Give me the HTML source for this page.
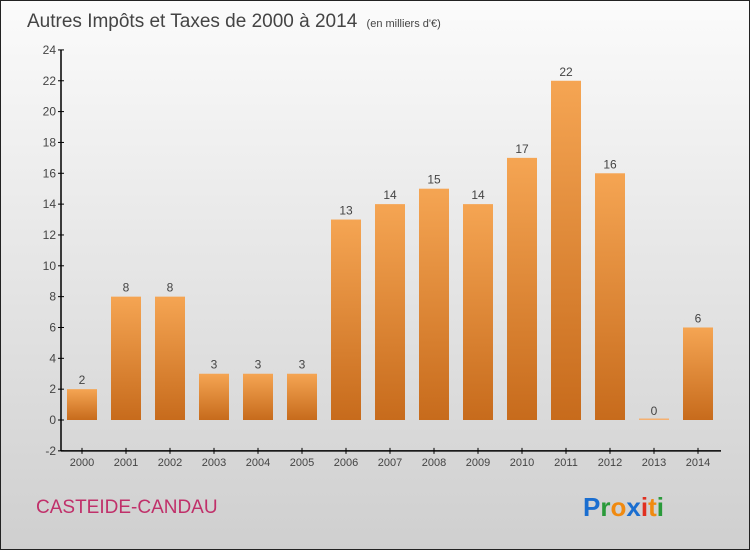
<!DOCTYPE html>
<html><head><meta charset="utf-8"><style>
html,body{margin:0;padding:0}
body{width:750px;height:550px;overflow:hidden;font-family:"Liberation Sans",sans-serif}
svg text{font-family:"Liberation Sans",sans-serif}
</style></head><body>
<svg id="chart" width="750" height="550" xmlns="http://www.w3.org/2000/svg">
<defs>
<linearGradient id="bg" x1="0" y1="0" x2="0" y2="1"><stop offset="0" stop-color="#fbfbfb"/><stop offset="1" stop-color="#cfcfcf"/></linearGradient>
<linearGradient id="bar" x1="0" y1="0" x2="0" y2="1"><stop offset="0" stop-color="#f5a553"/><stop offset="1" stop-color="#c76b1c"/></linearGradient>
</defs>
<rect x="0.5" y="0.5" width="749" height="549" fill="url(#bg)" stroke="#222" stroke-width="1"/>
<text x="27" y="27" font-size="19" fill="#444">Autres Impôts et Taxes de 2000 à 2014 <tspan font-size="11" dx="4">(en milliers d'€)</tspan></text>
<g id="grid"></g>
<g id="bars"></g>
<g id="axes"></g>
<text x="36" y="513" font-size="19" fill="#c0306a">CASTEIDE-CANDAU</text>
<g font-size="26" font-weight="bold">
<text x="583" y="516" fill="#1a6ed0">P<tspan fill="#2a9a3a">r</tspan><tspan fill="#f08a10">o</tspan><tspan fill="#1a6ed0">x</tspan><tspan fill="#e03020">i</tspan><tspan fill="#f08a10">t</tspan><tspan fill="#2a9a3a">i</tspan></text>
</g>
</svg>
<script>
const years=["2000","2001","2002","2003","2004","2005","2006","2007","2008","2009","2010","2011","2012","2013","2014"];
const values=[2,8,8,3,3,3,13,14,15,14,17,22,16,0,6];
const yTicks=[-2,0,2,4,6,8,10,12,14,16,18,20,22,24];
const NS="http://www.w3.org/2000/svg";
const y0=420, ppu=15.42, x0=82, step=44, bw=30;
const y=v=>y0-v*ppu, x=i=>x0+i*step;
function mk(t,a,p){const e=document.createElementNS(NS,t);for(const k in a)e.setAttribute(k,a[k]);p.appendChild(e);return e;}
const axes=document.getElementById('axes'), bars=document.getElementById('bars');
const ya=mk('line',{x1:61,y1:y(24),x2:61,y2:y(-2),stroke:'#000','stroke-width':1.5},axes);


const xa=mk('line',{x1:61,y1:y(-2),x2:721,y2:y(-2),stroke:'#000','stroke-width':1.5},axes);


yTicks.forEach(v=>{
 mk('line',{x1:58,y1:y(v),x2:64,y2:y(v),stroke:'#000'},axes);
 const t=mk('text',{x:56,y:y(v)+4,'text-anchor':'end','font-size':12,fill:'#444'},axes);
 t.textContent=v;
 
 
});
years.forEach((yr,i)=>{
 mk('line',{x1:x(i),y1:y(-2)-3,x2:x(i),y2:y(-2)+3,stroke:'#000'},axes);
 const t=mk('text',{x:x(i),y:466,'text-anchor':'middle','font-size':11,fill:'#444'},axes);
 t.textContent=yr;
 
 
 const v=values[i];
 const h=Math.max(Math.abs(v*ppu),1.5);
 const r=mk('rect',{x:x(i)-bw/2,y:Math.min(y(v),y0-1.5),width:bw,height:h,fill:v===0?'#f5b070':'url(#bar)'},bars);
 
 
 const l=mk('text',{x:x(i),y:Math.min(y(v),y0)-5,'text-anchor':'middle','font-size':12,fill:'#444'},bars);
 l.textContent=v;
 
 
});
</script>
</body></html>
